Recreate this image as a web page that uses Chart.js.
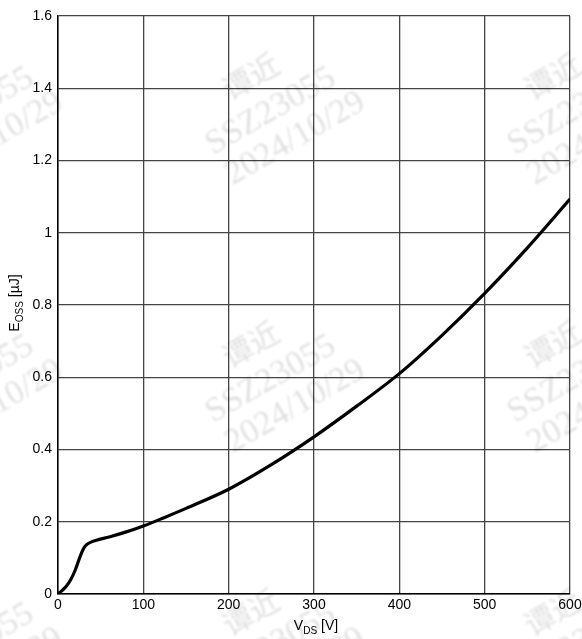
<!DOCTYPE html>
<html>
<head>
<meta charset="utf-8">
<script src="https://cdn.jsdelivr.net/npm/chart.js@4/dist/chart.umd.min.js"></script>
<style>
  html, body { margin: 0; padding: 0; background: #fff; }
  #wrap { width: 582px; height: 639px; position: relative; }
</style>
</head>
<body>
<div id="wrap"><canvas id="c" width="582" height="639"></canvas></div>
<script>
// Output capacitance stored energy vs. drain-source voltage
const vds  = [0, 5, 10, 15, 20, 25, 28, 30, 32, 35, 40, 45, 60, 80, 100, 125, 150, 200, 250, 300, 350, 400, 450, 500, 550, 600];
const eoss = [0, 0.010, 0.022, 0.040, 0.065, 0.098, 0.116, 0.126, 0.133, 0.139, 0.145, 0.149, 0.158, 0.172, 0.188, 0.212, 0.237, 0.290, 0.358, 0.435, 0.520, 0.610, 0.716, 0.832, 0.958, 1.093];

const xTickValues = [0, 100, 200, 300, 400, 500, 600];
const yTickValues = [0, 0.2, 0.4, 0.6, 0.8, 1, 1.2, 1.4, 1.6];

const stampLines = ['谭近', 'SSZ23055', '2024/10/29'];

const tickFont = { family: 'Liberation Sans, Arial, sans-serif', size: 14 };

// draws a label made of normal and subscript parts, left to right from (0,0)
function drawSubText(ctx, parts, size) {
  let x = 0;
  for (const p of parts) {
    const s = p.sub ? size * 0.72 : size;
    ctx.font = s + 'px Liberation Sans, Arial, sans-serif';
    ctx.fillText(p.t, x, p.sub ? size * 0.3 : 0);
    x += ctx.measureText(p.t).width;
  }
  return x;
}
function measureSubText(ctx, parts, size) {
  let w = 0;
  for (const p of parts) {
    const s = p.sub ? size * 0.72 : size;
    ctx.font = s + 'px Liberation Sans, Arial, sans-serif';
    w += ctx.measureText(p.t).width;
  }
  return w;
}

const axisTitles = {
  id: 'axisTitles',
  afterDraw(chart) {
    const ctx = chart.ctx;
    const a = chart.chartArea;
    ctx.save();
    ctx.fillStyle = '#000';
    ctx.textBaseline = 'alphabetic';
    // x-axis title
    const xParts = [{ t: 'V' }, { t: 'DS', sub: true }, { t: ' [V]' }];
    const wx = measureSubText(ctx, xParts, 14);
    ctx.save();
    ctx.translate((a.left + a.right) / 2 - wx / 2 + 2, a.bottom + 36);
    drawSubText(ctx, xParts, 14);
    ctx.restore();
    // y-axis title, rotated
    const yParts = [{ t: 'E' }, { t: 'OSS', sub: true }, { t: ' [µJ]' }];
    const wy = measureSubText(ctx, yParts, 14);
    ctx.save();
    ctx.translate(19, (a.top + a.bottom) / 2 + wy / 2 - 2);
    ctx.rotate(-Math.PI / 2);
    drawSubText(ctx, yParts, 14);
    ctx.restore();
    ctx.restore();
  }
};

// faint repeated stamp text across the page
const stamp = {
  id: 'stamp',
  beforeDatasetsDraw(chart) {
    const ctx = chart.ctx;
    ctx.save();
    ctx.fillStyle = 'rgba(0,0,0,0.12)';
    ctx.filter = 'blur(1.2px)';
    ctx.textAlign = 'left';
    ctx.textBaseline = 'alphabetic';
    const cols = [-89, 213, 515];
    const rows = [155, 423, 691];
    for (const bx of cols) {
      for (const by of rows) {
        ctx.save();
        ctx.translate(bx, by);
        ctx.rotate(-30 * Math.PI / 180);
        ctx.font = '30px "Noto Sans CJK SC"';
        ctx.fillText(stampLines[0], 42, -38);
        ctx.font = '34px "Liberation Serif", "DejaVu Serif", serif';
        ctx.fillText(stampLines[1], 0, 0);
        ctx.fillText(stampLines[2], 2, 36);
        ctx.restore();
      }
    }
    ctx.restore();
  }
};

new Chart(document.getElementById('c'), {
  type: 'line',
  data: {
    datasets: [{
      data: vds.map((v, i) => ({ x: v, y: eoss[i] })),
      borderColor: '#000',
      borderWidth: 3.2,
      pointRadius: 0,
      fill: false,
      cubicInterpolationMode: 'monotone'
    }]
  },
  options: {
    responsive: false,
    animation: false,
    devicePixelRatio: 1,
    layout: { padding: { left: 0, top: 16, right: 12, bottom: 0 } },
    plugins: { legend: { display: false }, tooltip: { enabled: false } },
    scales: {
      x: {
        type: 'linear',
        min: 0, max: 600,
        afterBuildTicks(scale) { scale.ticks = xTickValues.map(v => ({ value: v })); },
        afterFit(scale) { scale.height = 45; scale.paddingLeft = 0; scale.paddingRight = 0; },
        ticks: { color: '#000', font: tickFont, padding: 3, maxRotation: 0 },
        grid: { color: '#444', lineWidth: 1.3, drawTicks: false },
        border: { color: '#000', width: 1.5 }
      },
      y: {
        min: 0, max: 1.6,
        afterBuildTicks(scale) { scale.ticks = yTickValues.map(v => ({ value: v })); },
        afterFit(scale) { scale.width = 58; scale.paddingTop = 0; scale.paddingBottom = 0; },
        ticks: {
          color: '#000', font: tickFont, padding: 6,
          callback: v => String(Number(v.toFixed(1)))
        },
        grid: { color: '#444', lineWidth: 1.3, drawTicks: false },
        border: { color: '#000', width: 1.5 }
      }
    }
  },
  plugins: [stamp, axisTitles]
});
</script>
</body>
</html>
